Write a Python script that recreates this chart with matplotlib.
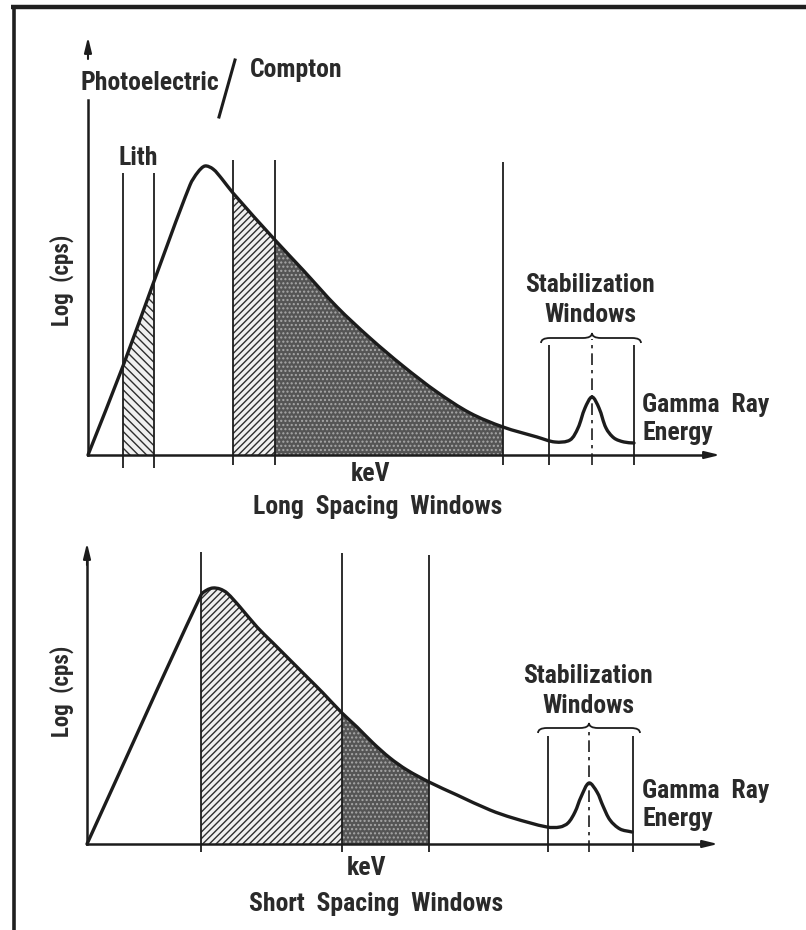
import matplotlib
matplotlib.use("Agg")
import matplotlib.pyplot as plt
from matplotlib.path import Path
from matplotlib.patches import PathPatch, Rectangle
from matplotlib import font_manager
import numpy as np

INK = "#1c1c1c"
TXT = "#2a2a2a"

_installed = {f.name for f in font_manager.fontManager.ttflist}
FONT = [f for f in ["Roboto Condensed", "Liberation Sans Narrow", "Roboto",
                    "Liberation Sans", "DejaVu Sans"] if f in _installed]

# ---- Long spacing detector spectrum (energy channel, log counts) ----
long_energy = [0, 35, 65, 102, 110, 117, 125, 134, 145, 187, 215, 249, 282, 315,
               349, 382, 415, 449, 467, 482, 490, 497, 504, 511, 518, 526, 536, 546]
long_counts = [0, 89, 171, 270, 283, 289, 286, 276, 262, 215, 185, 148, 117, 89,
               63, 42, 28, 18, 13, 15, 27, 47, 58, 47, 27, 17, 13, 12]
long_lith = (35, 66)
long_compton = (145, 187)
long_density = (187, 415)
long_stab = (461, 504, 546)

# ---- Short spacing detector spectrum ----
short_energy = [0, 114, 120, 126, 133, 140, 153, 170, 186, 203, 220, 236, 255, 270,
                286, 303, 320, 342, 370, 403, 426, 460, 473, 481, 488, 494, 502, 510,
                516, 523, 533, 545]
short_counts = [0, 249, 254, 256, 255, 251, 237, 217, 201, 184, 167, 151, 131, 117,
                101, 86, 74, 62, 49, 34, 26, 17, 17, 21, 32, 47, 61, 52,
                38, 24, 15, 12]
short_compton = (114, 255)
short_density = (255, 342)
short_stab = (461, 502, 546)

fig = plt.figure(figsize=(8.06, 9.30), dpi=100)
fig.patch.set_facecolor("white")

ax_top = fig.add_axes([0, 410 / 930, 1, 520 / 930])
ax_top.set_xlim(-88, 718)
ax_top.set_ylim(-65, 455)
ax_bot = fig.add_axes([0, 0, 1, 410 / 930])
ax_bot.set_xlim(-87, 719)
ax_bot.set_ylim(-86, 324)
for ax in (ax_top, ax_bot):
    ax.set_axis_off()


def smooth_path(xs, ys):
    """Cubic Bezier path through the points, chord-length tangents."""
    p = np.column_stack([xs, ys]).astype(float)
    n = len(p)
    t = np.concatenate([[0.0], np.cumsum(np.hypot(*np.diff(p, axis=0).T))])
    m = np.zeros_like(p)
    for i in range(n):
        a, b = max(i - 1, 0), min(i + 1, n - 1)
        m[i] = (p[b] - p[a]) / (t[b] - t[a])
    # sharp start of the spectrum: keep the first segment straight
    m[0] = (p[1] - p[0]) / (t[1] - t[0])
    verts = [p[0]]
    codes = [Path.MOVETO]
    for i in range(n - 1):
        h = (t[i + 1] - t[i]) / 3.0
        verts += [p[i] + m[i] * h, p[i + 1] - m[i + 1] * h, p[i + 1]]
        codes += [Path.CURVE4] * 3
    return verts, codes


def spectrum(ax, xs, ys, hatch_windows, stipple_windows):
    verts, codes = smooth_path(xs, ys)
    area = Path(verts + [(xs[-1], 0), (xs[0], 0), (xs[0], 0)],
                codes + [Path.LINETO, Path.LINETO, Path.CLOSEPOLY])
    top = max(ys) + 10
    for (lo, hi), pattern in hatch_windows:
        r = Rectangle((lo, 0), hi - lo, top, facecolor="#f0f0f0",
                      edgecolor="#2e2e2e", hatch=pattern, lw=0, zorder=1)
        ax.add_patch(r)
        r.set_clip_path(area, ax.transData)
    for lo, hi in stipple_windows:
        r = Rectangle((lo, 0), hi - lo, top, facecolor="#555555",
                      edgecolor="#a8a8a8", hatch="....", lw=0, zorder=1)
        ax.add_patch(r)
        r.set_clip_path(area, ax.transData)
    ax.add_patch(PathPatch(Path(verts, codes), facecolor="none", edgecolor=INK,
                           lw=2.4, capstyle="round", joinstyle="round", zorder=4))


def vline(ax, x, top, bottom=-10, **kw):
    ax.plot([x, x], [bottom, top], color=INK, lw=1.3, solid_capstyle="butt",
            zorder=3, **kw)


def axes_arrows(ax, xmax, ymax, ystart=None):
    ax.plot([0, xmax - 12], [0, 0], color=INK, lw=1.8, zorder=3)
    ax.annotate("", xy=(xmax, 0), xytext=(xmax - 14, 0),
                arrowprops=dict(arrowstyle="-|>,head_length=0.9,head_width=0.22",
                                color=INK, lw=1.5, shrinkA=0, shrinkB=0), zorder=4)
    ax.plot([0, 0], [0, ystart if ystart is not None else ymax - 12],
            color=INK, lw=1.8, zorder=3)
    ax.annotate("", xy=(0, ymax), xytext=(0, ymax - 22),
                arrowprops=dict(arrowstyle="-|>,head_length=0.9,head_width=0.22",
                                color=INK, lw=1.5, shrinkA=0, shrinkB=0), zorder=4)


def brace(ax, x0, x1, xc, y, depth=5, rise=5):
    r = 9
    verts = [(x0, y - depth), (x0, y), (x0 + r, y),
             (xc - r, y), (xc, y), (xc, y + rise),
             (xc, y), (xc + r, y),
             (x1 - r, y), (x1, y), (x1, y - depth)]
    codes = [Path.MOVETO, Path.CURVE3, Path.CURVE3,
             Path.LINETO, Path.CURVE3, Path.CURVE3,
             Path.CURVE3, Path.CURVE3,
             Path.LINETO, Path.CURVE3, Path.CURVE3]
    ax.add_patch(PathPatch(Path(verts, codes), facecolor="none", edgecolor=INK,
                           lw=1.3, zorder=3))


def label(ax, x, y, s, size=18.5, **kw):
    kw.setdefault("ha", "center")
    kw.setdefault("va", "center")
    ax.text(x, y, s, fontsize=size, fontweight="bold", color=TXT,
            family=FONT, zorder=5, **kw)


# ================= Long spacing panel =================
ax = ax_top
spectrum(ax, long_energy, long_counts,
         [(long_lith, "\\\\\\\\"), (long_compton, "/////")], [long_density])

vline(ax, long_lith[0], 282, -13)
vline(ax, long_lith[1], 282, -13)
vline(ax, long_compton[0], 295)
vline(ax, long_compton[1], 295)
vline(ax, long_density[1], 293)
vline(ax, long_stab[0], 110)
vline(ax, long_stab[2], 110)
ax.plot([long_stab[1]] * 2, [-10, 116], color=INK, lw=1.2,
        linestyle=(0, (7, 3, 2, 3)), zorder=3)
brace(ax, 453, 553, long_stab[1], 117)

axes_arrows(ax, 632, 418, ystart=355)

label(ax, 62, 372, "Photoelectric")
label(ax, 208, 385, "Compton")
ax.plot([131, 147], [338, 395], color=INK, lw=2.2, zorder=3)
label(ax, 50, 297, "Lith")
label(ax, -26, 175, "Log  (cps)", size=16.5, rotation=90)
label(ax, 282, -19, "keV")
label(ax, 290, -52, "Long  Spacing  Windows")
label(ax, 502, 170, "Stabilization")
label(ax, 502, 140, "Windows")
label(ax, 554, 50, "Gamma  Ray", ha="left")
label(ax, 554, 22, "Energy", ha="left")

# ================= Short spacing panel =================
ax = ax_bot
spectrum(ax, short_energy, short_counts,
         [(short_compton, "/////")], [short_density])

vline(ax, short_compton[0], 292, -8)
vline(ax, short_compton[1], 291, -8)
vline(ax, short_density[1], 289, -8)
vline(ax, short_stab[0], 108, -8)
vline(ax, short_stab[2], 108, -8)
ax.plot([short_stab[1]] * 2, [-8, 115], color=INK, lw=1.2,
        linestyle=(0, (7, 3, 2, 3)), zorder=3)
brace(ax, 451, 553, short_stab[1], 116)

axes_arrows(ax, 631, 301)

label(ax, -25, 153, "Log  (cps)", size=16.5, rotation=90)
label(ax, 280, -24, "keV")
label(ax, 289, -60, "Short  Spacing  Windows")
label(ax, 501, 168, "Stabilization")
label(ax, 501, 138, "Windows")
label(ax, 555, 53, "Gamma  Ray", ha="left")
label(ax, 555, 25, "Energy", ha="left")

# page frame along the top and left edges
frame = fig.add_axes([0, 0, 1, 1], zorder=10)
frame.set_xlim(0, 806)
frame.set_ylim(930, 0)
frame.set_axis_off()
frame.patch.set_alpha(0)
frame.plot([11, 806], [7, 7], color="#202020", lw=3.2, solid_capstyle="butt")
frame.plot([13.5, 13.5], [5.5, 930], color="#202020", lw=2.6, solid_capstyle="butt")

fig.savefig("out.png", dpi=100, facecolor="white")
